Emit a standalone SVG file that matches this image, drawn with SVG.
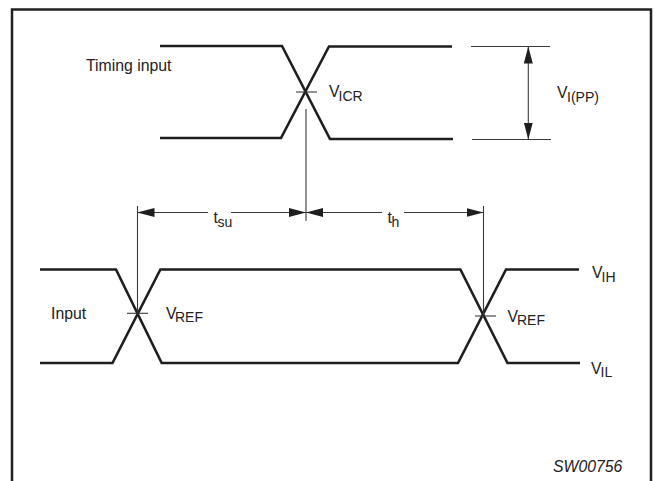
<svg xmlns="http://www.w3.org/2000/svg" width="654" height="481" viewBox="0 0 654 481">
<style>
.frame{fill:none;stroke:#222;stroke-width:2.5}
.sig{fill:none;stroke:#1e1e1e;stroke-width:2.6;stroke-linejoin:miter}
.thin{fill:none;stroke:#3a3a3a;stroke-width:1.1}
.lbl{font-family:"Liberation Sans",Arial,sans-serif;font-size:15.8px;fill:#222}
.sub{font-size:14px}
.ital{font-style:italic}
</style>
<defs>
<marker id="arr" markerUnits="userSpaceOnUse" markerWidth="17" markerHeight="9" refX="17" refY="4.5" orient="auto-start-reverse" viewBox="0 0 17 9">
<path d="M0,0 L17,4.5 L0,9 z" fill="#1e1e1e"/>
</marker>
</defs>
<path class="frame" d="M12,481 V9.5 H651 V481"/>
<g id="timing-input">
<path class="sig" d="M160,46 H282 L330,139 H453"/>
<path class="sig" d="M160,138 H281 L329,46.5 H452"/>
<text class="lbl" x="86" y="71">Timing input</text>
</g>
<g id="input">
<path class="sig" d="M40,269.5 H116 L161.7,363 H458 L506,269.5 H579"/>
<path class="sig" d="M40,363 H112.5 L160.4,269.5 H460.4 L507.5,363 H580"/>
<text class="lbl" x="51" y="319">Input</text>
</g>
<g id="vicr">
<text class="lbl" x="329" y="97">V<tspan class="sub" x="338.5" y="101">ICR</tspan></text>
</g>
<g id="vipp">
<text class="lbl" x="557" y="98">V<tspan class="sub" x="567" y="102">I(PP)</tspan></text>
</g>
<g id="vref-left">
<text class="lbl" x="166" y="319">V<tspan class="sub" x="175" y="322">REF</tspan></text>
</g>
<g id="vref-right">
<text class="lbl" x="507.5" y="322">V<tspan class="sub" x="517" y="325">REF</tspan></text>
</g>
<g id="vih">
<text class="lbl" x="592" y="277.5">V<tspan class="sub" x="601.5" y="281.5">IH</tspan></text>
</g>
<g id="vil">
<text class="lbl" x="591" y="373.5">V<tspan class="sub" x="600.5" y="377">IL</tspan></text>
</g>
<g id="tsu">
<text class="lbl" x="213.5" y="223">t<tspan class="sub" x="217.5" y="227">su</tspan></text>
</g>
<g id="th">
<text class="lbl" x="387.5" y="223">t<tspan class="sub" x="391.5" y="227">h</tspan></text>
</g>
<g id="label">
<text class="lbl ital" x="553" y="471.5">SW00756</text>
</g>
<g id="connectors">
<line class="thin" x1="296" y1="92" x2="317" y2="92"/>
<line class="thin" x1="306" y1="109" x2="306" y2="221"/>
<line class="thin" x1="471" y1="46.5" x2="550" y2="46.5"/>
<line class="thin" x1="472" y1="139.5" x2="551" y2="139.5"/>
<line class="thin" x1="528.3" y1="46.5" x2="528.3" y2="139.5" marker-start="url(#arr)" marker-end="url(#arr)"/>
<line class="thin" x1="137.5" y1="206" x2="137.5" y2="312"/>
<line class="thin" x1="483.5" y1="206" x2="483.5" y2="315"/>
<line class="thin" x1="127" y1="313.3" x2="148" y2="313.3"/>
<line class="thin" x1="475" y1="316" x2="496" y2="316"/>
<line class="thin" x1="137.5" y1="212.5" x2="208" y2="212.5" marker-start="url(#arr)"/>
<line class="thin" x1="231" y1="212.5" x2="306" y2="212.5" marker-end="url(#arr)"/>
<line class="thin" x1="306" y1="212.5" x2="382" y2="212.5" marker-start="url(#arr)"/>
<line class="thin" x1="404" y1="212.5" x2="483.5" y2="212.5" marker-end="url(#arr)"/>
</g>
</svg>
